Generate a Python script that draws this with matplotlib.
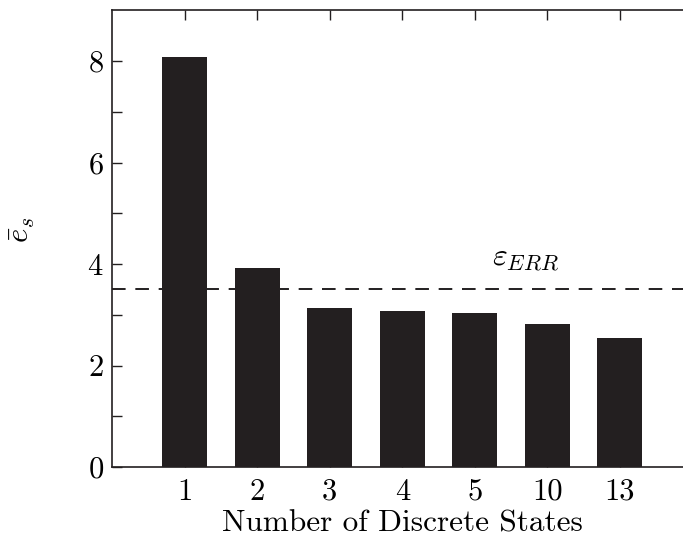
import matplotlib

matplotlib.use("Agg")
import matplotlib.pyplot as plt
import numpy as np

plt.rcParams["font.family"] = "serif"
plt.rcParams["font.serif"] = ["cmr10"]
plt.rcParams["mathtext.fontset"] = "cm"
plt.rcParams["axes.formatter.use_mathtext"] = True

states = ["1", "2", "3", "4", "5", "10", "13"]
err_mean = [8.08, 3.93, 3.14, 3.08, 3.04, 2.82, 2.55]
eps_err = 3.5

fig = plt.figure(figsize=(6.83, 5.4), dpi=100)
ax = fig.add_axes([0.164, 0.135, 0.850, 0.846])

pos = np.arange(1, len(states) + 1)
ax.bar(pos, err_mean, width=0.62, color="#231f20", zorder=2)
ax.axhline(eps_err, color="#231f20", lw=1.4, ls=(0, (7, 5)), zorder=3)
ax.text(5.23, 4.1, r"$\varepsilon_{ERR}$", fontsize=23, va="center", ha="left")

ax.set_xlim(0, 8)
ax.set_ylim(0, 9)
ax.set_xticks(pos)
ax.set_xticklabels(states)
ax.set_yticks([0, 2, 4, 6, 8])
ax.set_yticks([1, 3, 5, 7], minor=True)
ax.tick_params(axis="both", which="both", direction="in", labelsize=22,
               length=7, width=1.0, color="#231f20")
ax.tick_params(axis="x", top=True, bottom=True, pad=8)
ax.tick_params(axis="y", right=False, pad=6)
for s in ax.spines.values():
    s.set_linewidth(1.2)
    s.set_color("#231f20")

ax.set_xlabel("Number of Discrete States", fontsize=22.5, labelpad=3)
ax.set_ylabel(r"$\bar{e}_s$", fontsize=22, rotation=90)
ax.yaxis.set_label_coords(-0.13, 0.52)

fig.savefig("out.png", dpi=100)
